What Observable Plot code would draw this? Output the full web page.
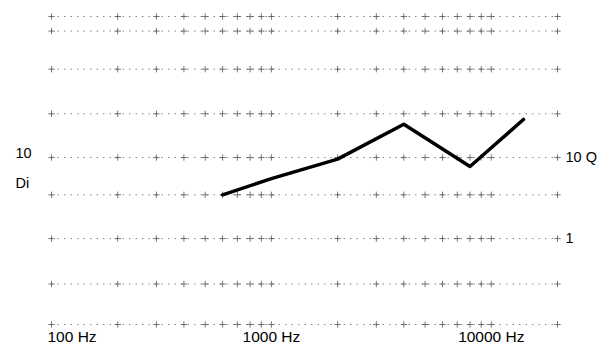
<!DOCTYPE html>
<html>
<head>
<meta charset="utf-8">
<script src="https://cdn.jsdelivr.net/npm/d3@7"></script>
<script src="https://cdn.jsdelivr.net/npm/@observablehq/plot@0.6"></script>
<style>
  html, body { margin: 0; padding: 0; background: #fff; }
  #chart svg { display: block; }
</style>
</head>
<body>
<div id="chart"></div>
<script>
// Frequency response of the directivity index (Di, dB)
const freqs = [600, 1000, 2000, 4000, 8000, 10000, 14000];
const di = [5.4, 7.4, 9.8, 14.1, 8.9, 11.2, 14.7];

// Grid rows (dB) and columns (Hz)
const gridRows = [-10.6, -5.6, 0, 5.4, 10, 15.4, 20.9, 25.6, 27.4];
const gridCols = [100, 200, 300, 400, 500, 600, 700, 800, 900,
                  1000, 2000, 3000, 4000, 5000, 6000, 7000, 8000, 9000,
                  10000, 20000];

// Axis labels
const xTicks = [100, 1000, 10000];
const xTickLabels = ["100 Hz", "1000 Hz", "10000 Hz"];
const diTicks = [10];
const diTickLabels = ["10"];
const qTicks = [10, 1];
const qTickLabels = ["10 Q", "1"];

const line = freqs.map((f, i) => ({f, d: di[i]}));
const crosses = [];
for (const r of gridRows) for (const c of gridCols) crosses.push({f: c, d: r});
const xLab = xTicks.map((f, i) => ({f, label: xTickLabels[i]}));
const qLab = qTicks.map((q, i) => ({d: 10 * Math.log10(q), label: qTickLabels[i]}));
const diLab = diTicks.map((d, i) => ({d, label: diTickLabels[i]}));

const chart = Plot.plot({
  width: 610,
  height: 350,
  marginLeft: 51,
  marginRight: 53,
  marginTop: 16,
  marginBottom: 26,
  style: {fontFamily: "'Liberation Sans', Arial, sans-serif", background: "#fff"},
  x: {type: "log", domain: [100, 20000], axis: null},
  y: {domain: [-10.6, 27.4], axis: null},
  marks: [
    Plot.ruleY(gridRows, {stroke: "#777", strokeWidth: 0.9, strokeDasharray: "1.5 5"}),
    Plot.dot(crosses, {x: "f", y: "d", symbol: "plus", r: 2.2, stroke: "#555", strokeWidth: 0.8}),
    Plot.line(line, {x: "f", y: "d", stroke: "#000", strokeWidth: 3.5, strokeLinejoin: "round", strokeLinecap: "round"}),
    Plot.text(xLab.slice(0, 1), {x: "f", text: "label", frameAnchor: "bottom", textAnchor: "start", dx: -4, dy: 17, fontSize: 15.5, fill: "#000"}),
    Plot.text(xLab.slice(1), {x: "f", text: "label", frameAnchor: "bottom", textAnchor: "middle", dy: 17, fontSize: 15.5, fill: "#000"}),
    Plot.text(diLab, {y: "d", text: "label", frameAnchor: "left", textAnchor: "start", dx: -36, dy: -4, fontSize: 14.5, fill: "#000"}),
    Plot.text(diLab, {y: "d", text: () => "Di", frameAnchor: "left", textAnchor: "start", dx: -36, dy: 26, fontSize: 14.5, fill: "#000"}),
    Plot.text(qLab, {y: "d", text: "label", frameAnchor: "right", textAnchor: "start", dx: 8, fontSize: 14.5, fill: "#000"})
  ]
});
document.getElementById("chart").appendChild(chart);
</script>
</body>
</html>
